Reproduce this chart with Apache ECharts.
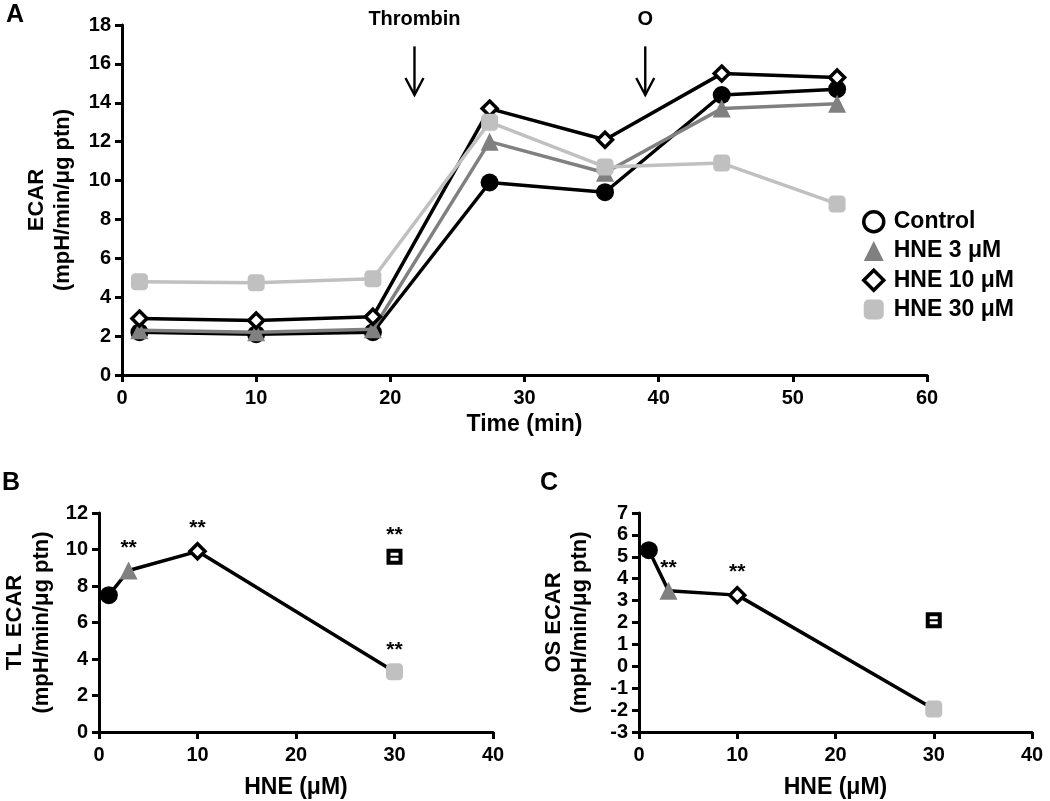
<!DOCTYPE html>
<html>
<head>
<meta charset="utf-8">
<script src="https://cdn.jsdelivr.net/npm/echarts@6/dist/echarts.min.js"></script>
<style>
html,body{margin:0;padding:0;background:#fff;}
#chart{width:1050px;height:801px;}
</style>
</head>
<body>
<div id="chart"></div>
<script>
// ---------- Panel A data ----------
const timeMin = [1.3, 10, 18.7, 27.4, 36.0, 44.7, 53.3];
const controlA = [2.2, 2.1, 2.2, 9.9, 9.4, 14.4, 14.7];
const hne3A = [2.3, 2.2, 2.35, 12.0, 10.4, 13.7, 13.95];
const hne10A = [2.9, 2.8, 3.0, 13.7, 12.1, 15.5, 15.3];
const hne30A = [4.8, 4.75, 4.95, 13.0, 10.7, 10.9, 8.8];
const seriesNamesA = ['Control', 'HNE 3 μM', 'HNE 10 μM', 'HNE 30 μM'];
const arrowTimes = [21.8, 39.0];
const arrowLabels = ['Thrombin', 'O'];

// ---------- Panel B / C data ----------
const hneDose = [1, 3, 10, 30];
const tlEcar = [7.5, 8.85, 9.9, 3.3];
const osEcar = [5.3, 3.45, 3.25, -1.95];
const extraDose = [30];
const tlExtra = [9.6];
const osExtra = [2.1];
const tlStars = [false, true, true, true];
const tlExtraStars = [true];
const osStars = [false, true, true, false];

const FONT = 'Liberation Sans, Arial, sans-serif';
const MARK = [
  {symbol: 'circle', symbolSize: 18, itemStyle: {color: '#000'}},
  {symbol: 'triangle', symbolSize: 18, itemStyle: {color: '#808080'}},
  {symbol: 'diamond', symbolSize: 15, itemStyle: {color: '#fff', borderColor: '#000', borderWidth: 3.5}},
  {symbol: 'roundRect', symbolSize: 17, itemStyle: {color: '#c0c0c0'}}
];
const LINECOL = ['#000', '#808080', '#000', '#c0c0c0'];
const BOXED = 'path://M0,0H16V16H0Z M4,4V12H12V4Z M4,7H12V9H4Z';

function labelStyle(extra) {
  return Object.assign({color: '#000', fontFamily: FONT, fontWeight: 'bold', fontSize: 20}, extra || {});
}
function axisCommon(min, max, interval, margin) {
  return {
    type: 'value', min: min, max: max, interval: interval,
    axisLine: {show: true, onZero: false, lineStyle: {color: '#000', width: 3}},
    axisTick: {show: true, inside: false, length: 7, lineStyle: {color: '#000', width: 3}},
    splitLine: {show: false},
    axisLabel: labelStyle({margin: margin}),
    nameTextStyle: {color: '#000', fontFamily: FONT, fontWeight: 'bold', fontSize: 23},
    nameLocation: 'middle'
  };
}

const chart = echarts.init(document.getElementById('chart'), null, {renderer: 'canvas'});

const seriesA = [controlA, hne3A, hne10A, hne30A].map(function (vals, i) {
  return {
    name: seriesNamesA[i], type: 'line', xAxisIndex: 0, yAxisIndex: 0,
    data: vals.map(function (v, j) { return [timeMin[j], v]; }),
    symbol: MARK[i].symbol, symbolSize: MARK[i].symbolSize,
    itemStyle: MARK[i].itemStyle,
    lineStyle: {color: LINECOL[i], width: 3.5},
    z: 2 + i, animation: false
  };
});

function starLabel(show) {
  return {show: show, position: 'top', distance: 3, formatter: '**',
    color: '#000', fontFamily: FONT, fontWeight: 'bold', fontSize: 21};
}
function doseSeries(vals, stars, gi, name) {
  return {
    name: name, type: 'line', xAxisIndex: gi, yAxisIndex: gi,
    lineStyle: {color: '#000', width: 3.5},
    data: vals.map(function (v, j) {
      return {
        value: [hneDose[j], v], symbol: MARK[j].symbol, symbolSize: MARK[j].symbolSize,
        itemStyle: MARK[j].itemStyle, label: starLabel(stars[j])
      };
    }),
    animation: false, z: 3
  };
}
function extraSeries(vals, stars, gi) {
  return {
    type: 'scatter', xAxisIndex: gi, yAxisIndex: gi,
    data: vals.map(function (v, j) {
      return {value: [extraDose[j], v], label: starLabel(stars[j])};
    }),
    symbol: BOXED, symbolSize: 16,
    itemStyle: {color: '#000', opacity: 1},
    animation: false, z: 3
  };
}

const xA = Object.assign(axisCommon(0, 60, 10, 13), {gridIndex: 0, name: 'Time (min)', nameGap: 38});
const yA = Object.assign(axisCommon(0, 18, 2, 11), {gridIndex: 0, name: 'ECAR\n(mpH/min/μg ptn)', nameGap: 46,
  nameTextStyle: {color: '#000', fontFamily: FONT, fontWeight: 'bold', fontSize: 22, lineHeight: 26}});
const xB = Object.assign(axisCommon(0, 40, 10, 13), {gridIndex: 1, name: 'HNE (μM)', nameGap: 44});
const yB = Object.assign(axisCommon(0, 12, 2, 11), {gridIndex: 1, name: 'TL ECAR\n(mpH/min/μg ptn)', nameGap: 44,
  nameTextStyle: {color: '#000', fontFamily: FONT, fontWeight: 'bold', fontSize: 22, lineHeight: 27}});
const xC = Object.assign(axisCommon(0, 40, 10, 13), {gridIndex: 2, name: 'HNE (μM)', nameGap: 44});
const yC = Object.assign(axisCommon(-3, 7, 1, 11), {gridIndex: 2, name: 'OS ECAR\n(mpH/min/μg ptn)', nameGap: 46,
  nameTextStyle: {color: '#000', fontFamily: FONT, fontWeight: 'bold', fontSize: 22, lineHeight: 26}});

const legendData = seriesNamesA.map(function (n, i) {
  const icons = ['circle', 'triangle', 'diamond', 'roundRect'];
  const styles = [
    {color: '#fff', borderColor: '#000', borderWidth: 3.5},
    {color: '#808080', borderWidth: 0},
    {color: '#fff', borderColor: '#000', borderWidth: 3.5},
    {color: '#c0c0c0', borderWidth: 0}
  ];
  return {name: n, icon: icons[i], itemStyle: styles[i]};
});

chart.setOption({
  backgroundColor: '#fff',
  animation: false,
  textStyle: {fontFamily: FONT},
  grid: [
    {left: 122, right: 123, top: 25, bottom: 426},
    {left: 98, right: 557, top: 513, bottom: 69},
    {left: 639, right: 18, top: 513, bottom: 69}
  ],
  xAxis: [xA, xB, xC],
  yAxis: [yA, yB, yC],
  legend: {
    orient: 'vertical', left: 857, top: 205, itemGap: 6, itemWidth: 20, itemHeight: 20,
    textStyle: {color: '#000', fontFamily: FONT, fontWeight: 'bold', fontSize: 23, padding: [0, 0, 0, 5]},
    data: legendData, selectedMode: false
  },
  series: seriesA.concat([
    doseSeries(tlEcar, tlStars, 1, 'TL'),
    extraSeries(tlExtra, tlExtraStars, 1),
    doseSeries(osEcar, osStars, 2, 'OS'),
    extraSeries(osExtra, [false], 2)
  ])
});

// annotations (arrows + labels) placed via the axis scales
const g = [];
arrowTimes.forEach(function (t, i) {
  const top = chart.convertToPixel({gridIndex: 0}, [t, 16.9]);
  const bot = chart.convertToPixel({gridIndex: 0}, [t, 14.4]);
  const lab = chart.convertToPixel({gridIndex: 0}, [t, 18.3]);
  g.push({type: 'line', shape: {x1: top[0], y1: top[1], x2: bot[0], y2: bot[1]}, style: {stroke: '#000', lineWidth: 2.4}});
  g.push({type: 'polyline', shape: {points: [[bot[0] - 9, bot[1] - 17], [bot[0], bot[1]], [bot[0] + 9, bot[1] - 17]]}, style: {stroke: '#000', lineWidth: 2.4, fill: null}});
  g.push({type: 'text', x: lab[0], y: lab[1], style: {text: arrowLabels[i], fill: '#000', font: 'bold 20px ' + FONT, textAlign: 'center', textVerticalAlign: 'middle'}});
});
[['A', 6, 3], ['B', 2, 471], ['C', 540, 471]].forEach(function (p) {
  g.push({type: 'text', x: p[1], y: p[2], style: {text: p[0], fill: '#000', font: 'bold 25px ' + FONT}});
});
chart.setOption({graphic: g});
</script>
</body>
</html>
